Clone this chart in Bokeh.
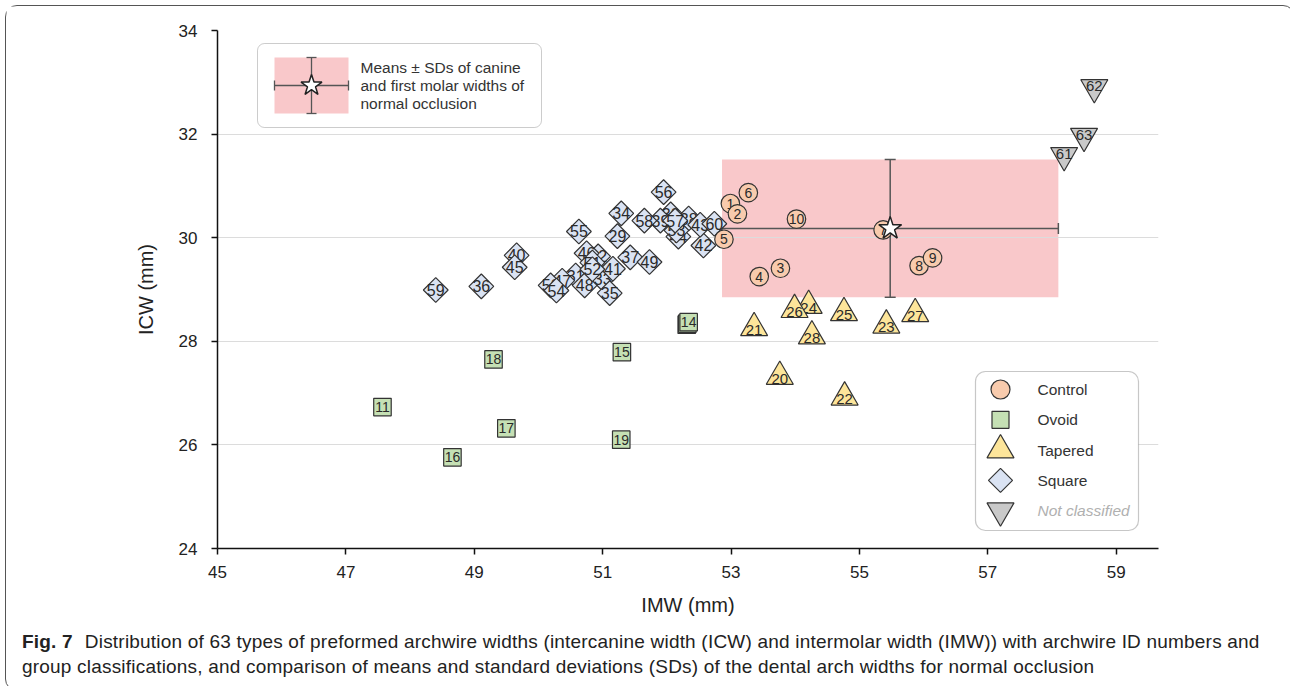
import numpy as np
from bokeh.plotting import figure
from bokeh.layouts import column
from bokeh.models import Range1d, Label, Whisker, ColumnDataSource, FixedTicker, TeeHead, BoxAnnotation, Div
from bokeh.core.properties import value
from bokeh.embed import file_html
from bokeh.resources import INLINE

# ---------------- data ----------------
control_id = [1, 2, 3, 4, 5, 6, 7, 8, 9, 10]
control_imw = [52.99, 53.10, 53.77, 53.44, 52.89, 53.27, 55.37, 55.93, 56.14, 54.02]
control_icw = [30.66, 30.46, 29.41, 29.25, 29.97, 30.87, 30.15, 29.46, 29.61, 30.36]

ovoid_id = [11, 12, 13, 14, 15, 16, 17, 18, 19]
ovoid_imw = [47.57, 52.31, 52.32, 52.34, 51.30, 48.66, 49.50, 49.30, 51.29]
ovoid_icw = [26.73, 28.32, 28.34, 28.37, 27.79, 25.76, 26.32, 27.65, 26.10]

tapered_id = [20, 21, 22, 23, 24, 25, 26, 27, 28]
tapered_imw = [53.76, 53.36, 54.77, 55.42, 54.21, 54.76, 53.99, 55.87, 54.26]
tapered_icw = [27.32, 28.26, 26.92, 28.31, 28.69, 28.55, 28.61, 28.53, 28.10]

square_id = list(range(29, 61))
square_imw = [51.23, 52.06, 50.58, 50.93, 51.00, 51.29, 51.11, 49.11, 51.43, 52.34,
              51.90, 49.66, 51.16, 52.57, 52.52, 52.18, 49.63, 50.75, 50.37, 50.72,
              51.73, 50.19, 50.84, 50.84, 52.15, 50.28, 50.63, 51.95, 52.13, 51.65,
              48.40, 52.74]
square_icw = [30.03, 30.45, 29.27, 29.64, 29.21, 30.47, 28.93, 29.06, 29.62, 30.37,
              30.33, 29.66, 29.40, 29.85, 30.25, 30.02, 29.43, 29.70, 29.17, 29.08,
              29.53, 29.08, 29.52, 29.39, 30.14, 28.98, 30.12, 30.88, 30.33, 30.33,
              28.99, 30.27]

nc_id = [61, 62, 63]
nc_imw = [58.19, 58.66, 58.50]
nc_icw = [31.59, 32.90, 31.96]

normal_imw_mean, normal_imw_sd = 55.48, 2.62
normal_icw_mean, normal_icw_sd = 30.18, 1.33

x_ticks = [45, 47, 49, 51, 53, 55, 57, 59]
y_ticks = [24, 26, 28, 30, 32, 34]

legend_labels = ["Control", "Ovoid", "Tapered", "Square", "Not classified"]
caption_bold = "Fig. 7"
caption_line1 = ("Distribution of 63 types of preformed archwire widths (intercanine width (ICW) "
                 "and intermolar width (IMW)) with archwire ID numbers and")
caption_line2 = ("group classifications, and comparison of means and standard deviations (SDs) "
                 "of the dental arch widths for normal occlusion")
box_text = ["Means \u00b1 SDs of canine", "and first molar widths of", "normal occlusion"]

# ---------------- figure ----------------
FONT = "Liberation Sans"
W, H = 1278, 618
ML, MT = 211, 24
FW, FH = 941, 518
MR, MB = W - ML - FW, H - MT - FH

p = figure(width=W, height=H, x_range=Range1d(45, 59.66), y_range=Range1d(24, 34),
           output_backend="svg", toolbar_location=None,
           min_border_left=ML, min_border_right=MR, min_border_top=MT, min_border_bottom=MB)
p.extra_x_ranges = {"px": Range1d(0, FW)}
p.extra_y_ranges = {"px": Range1d(0, FH)}
p.outline_line_color = None

p.xgrid.visible = False
p.ygrid.grid_line_color = "#dcdcdc"
p.ygrid.grid_line_width = 1

for ax in (p.xaxis[0], p.yaxis[0]):
    ax.axis_line_color = "#111111"
    ax.axis_line_width = 1.5
    ax.major_tick_line_color = "#111111"
    ax.major_tick_line_width = 1.5
    ax.major_tick_out = 6
    ax.major_tick_in = 0
    ax.minor_tick_line_color = None
    ax.major_label_text_font = FONT
    ax.major_label_text_font_size = "17px"
    ax.major_label_text_color = "#222222"
    ax.axis_label_text_font = FONT
    ax.axis_label_text_font_size = "20px"
    ax.axis_label_text_font_style = "normal"
    ax.axis_label_text_color = "#222222"

p.xaxis.ticker = FixedTicker(ticks=x_ticks)
p.yaxis.ticker = FixedTicker(ticks=y_ticks)
p.xaxis.axis_label = "IMW (mm)"
p.yaxis.axis_label = "ICW (mm)"
p.xaxis.major_label_standoff = 11
p.yaxis.major_label_standoff = 14
p.xaxis.axis_label_standoff = 13
p.yaxis.axis_label_standoff = 19

# normal occlusion mean +/- SD region
p.quad(left=[normal_imw_mean - normal_imw_sd], right=[normal_imw_mean + normal_imw_sd],
       bottom=[normal_icw_mean - normal_icw_sd], top=[normal_icw_mean + normal_icw_sd],
       fill_color="#f9c8ca", line_color=None, level="image")

EDGE = "#333333"
TXT = "#2a2a2a"
groups = [
    (square_id, square_imw, square_icw, "square", np.pi / 4, 17.5, "#dae3f3", "16px", 0),
    (ovoid_id, ovoid_imw, ovoid_icw, "square", 0.0, 17.5, "#c5e0b4", "14px", 0),
    (tapered_id, tapered_imw, tapered_icw, "triangle", 0.0, 27, "#fde59a", "15px", 2),
    (control_id, control_imw, control_icw, "circle", 0.0, 18.5, "#f8cbad", "14px", 0),
    (nc_id, nc_imw, nc_icw, "inverted_triangle", 0.0, 27, "#c9c9c9", "15px", -1),
]
for ids, xs, ys, mk, ang, sz, fc, fs, dy in groups:
    for i, xv, yv in zip(ids, xs, ys):
        p.scatter(x=[xv], y=[yv], marker=mk, angle=ang, size=sz, fill_color=fc,
                  line_color=EDGE, line_width=1.2)
        p.text(x=[xv], y=[yv], text=[str(i)], text_align="center", text_baseline="middle",
               y_offset=dy, text_font=value(FONT), text_font_size=fs, text_color=TXT)

# error bars for the normal occlusion means
src_v = ColumnDataSource(dict(base=[normal_imw_mean], lower=[normal_icw_mean - normal_icw_sd],
                              upper=[normal_icw_mean + normal_icw_sd]))
src_h = ColumnDataSource(dict(base=[normal_icw_mean], lower=[normal_imw_mean - normal_imw_sd],
                              upper=[normal_imw_mean + normal_imw_sd]))
for src, dim in ((src_v, "height"), (src_h, "width")):
    w = Whisker(source=src, base="base", lower="lower", upper="upper", dimension=dim,
                line_color="#555555", line_width=1.5,
                upper_head=TeeHead(size=11, line_color="#555555", line_width=1.5),
                lower_head=TeeHead(size=11, line_color="#555555", line_width=1.5))
    p.add_layout(w)
p.scatter(x=[normal_imw_mean], y=[normal_icw_mean], marker="star", size=24,
          fill_color="white", line_color="#222222", line_width=1.5)

# ---------------- top-left key box ----------------
p.add_layout(BoxAnnotation(left=40, right=324, bottom=421, top=505, x_range_name="px",
                           y_range_name="px", fill_color="white", fill_alpha=1,
                           line_color="#555555", line_width=1, border_radius=7,
                           level="annotation"))
p.quad(left=[57], right=[131], bottom=[435], top=[491], x_range_name="px", y_range_name="px",
       fill_color="#f9c8ca", line_color=None, level="overlay")
p.segment(x0=[94, 57, 89, 89, 57, 131], y0=[435, 463, 435, 491, 458, 458],
          x1=[94, 131, 99, 99, 57, 131], y1=[491, 463, 435, 491, 468, 468],
          x_range_name="px", y_range_name="px", line_color="#555555", line_width=1.3,
          level="overlay")
p.scatter(x=[94], y=[463], marker="star", size=22, fill_color="white", line_color="#222222",
          line_width=1.5, x_range_name="px", y_range_name="px", level="overlay")
for k, t in enumerate(box_text):
    p.add_layout(Label(x=143, y=481 - 18 * k, text=t, x_range_name="px", y_range_name="px",
                       text_font=FONT, text_font_size="15.5px", text_color="#333333",
                       text_baseline="middle", level="overlay"))

# ---------------- bottom-right legend ----------------
p.add_layout(BoxAnnotation(left=758, right=921, bottom=18, top=177, x_range_name="px",
                           y_range_name="px", fill_color="white", fill_alpha=1,
                           line_color="#444444", line_width=1.2, border_radius=10,
                           level="annotation"))
leg_style = [("circle", 0.0, 19, "#f8cbad"), ("square", 0.0, 17, "#c5e0b4"),
             ("triangle", 0.0, 27, "#fde59a"), ("square", np.pi / 4, 17, "#dae3f3"),
             ("inverted_triangle", 0.0, 27, "#c9c9c9")]
for k, (lab, (mk, ang, sz, fc)) in enumerate(zip(legend_labels, leg_style)):
    yy = 159 - 30.3 * k
    p.scatter(x=[783], y=[yy], marker=mk, angle=ang, size=sz, fill_color=fc, line_color=EDGE,
              line_width=1.2, x_range_name="px", y_range_name="px", level="overlay")
    nc = lab == "Not classified"
    p.add_layout(Label(x=820, y=yy, text=lab, x_range_name="px", y_range_name="px",
                       text_font=FONT, text_font_size="15.5px",
                       text_font_style="italic" if nc else "normal",
                       text_color="#b0b0b0" if nc else "#333333",
                       text_baseline="middle", level="overlay"))

# ---------------- caption ----------------
cap_html = (
    f'<div style="font-family: \'{FONT}\'; font-size: 19px; letter-spacing: 0.2px; '
    f'line-height: 25px; color: #222222; padding-left: 11px; white-space: nowrap;">'
    f'<b style="margin-right: 12px;">{caption_bold}</b>{caption_line1}<br>{caption_line2}</div>'
)
cap = Div(text=cap_html, width=W, height=56)

root = column(p, cap, spacing=0,
              styles={"border": "1px solid #555555", "border-radius": "12px",
                      "margin": "5px", "background-color": "white"})

open("out.html", "w").write(file_html(root, INLINE))
